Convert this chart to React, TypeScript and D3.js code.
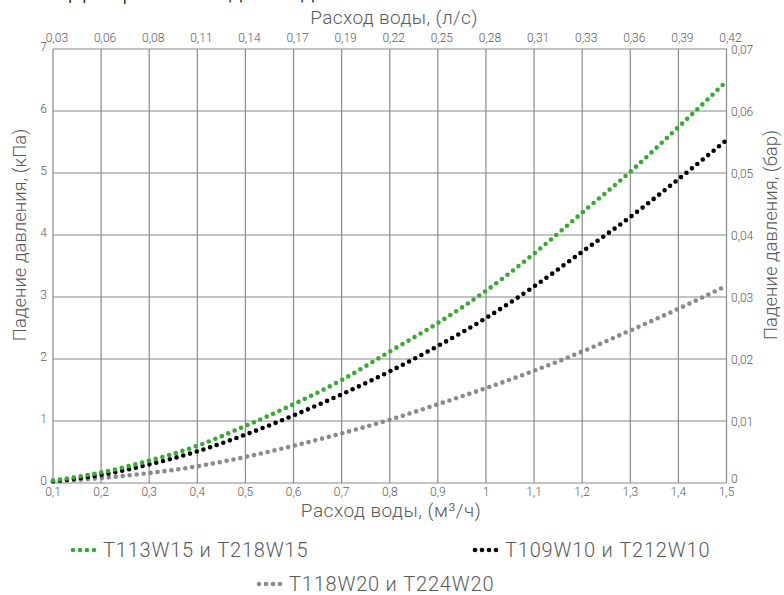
import React from "react";
import * as d3 from "d3";

const flow = [0.1, 0.2, 0.3, 0.4, 0.5, 0.6, 0.7, 0.8, 0.9, 1.0, 1.1, 1.2, 1.3, 1.4, 1.5];
const seriesGreen = [0.04, 0.17, 0.36, 0.6, 0.92, 1.27, 1.66, 2.12, 2.58, 3.1, 3.7, 4.36, 5.02, 5.74, 6.48];
const seriesBlack = [0.03, 0.13, 0.3, 0.51, 0.78, 1.09, 1.43, 1.8, 2.21, 2.66, 3.17, 3.73, 4.29, 4.9, 5.53];
const seriesGray = [0.02, 0.08, 0.16, 0.27, 0.42, 0.6, 0.8, 1.02, 1.27, 1.53, 1.81, 2.12, 2.46, 2.81, 3.18];

const bottomLabels = ["0,1", "0,2", "0,3", "0,4", "0,5", "0,6", "0,7", "0,8", "0,9", "1", "1,1", "1,2", "1,3", "1,4", "1,5"];
const topLabels = ["0,03", "0,06", "0,08", "0,11", "0,14", "0,17", "0,19", "0,22", "0,25", "0,28", "0,31", "0,33", "0,36", "0,39", "0,42"];
const leftTicks = [0, 1, 2, 3, 4, 5, 6, 7];
const rightLabels = ["0", "0,01", "0,02", "0,03", "0,04", "0,05", "0,06", "0,07"];

const legendNames = ["T113W15 и T218W15", "T109W10 и T212W10", "T118W20 и T224W20"];
const colors = ["#3aa935", "#000000", "#8a8a8a"];

const FONT = "Roboto, 'Open Sans', sans-serif";
const TEXT = "#5a5a5a";

export default function App() {
  const W = 784, H = 595;
  const x = d3.scaleLinear().domain([0.1, 1.5]).range([53, 726.5]);
  const y = d3.scaleLinear().domain([0, 7]).range([483, 49]);
  const line = d3
    .line<number>()
    .x((_, i) => x(flow[i]))
    .y((d) => y(d))
    .curve(d3.curveMonotoneX);
  const series = [seriesGreen, seriesBlack, seriesGray];

  const legendPos = [
    { x: 73, y: 550 },
    { x: 475, y: 550 },
    { x: 259, y: 584 },
  ];

  return (
    <svg width={W} height={H} style={{ position: "absolute", left: 0, top: 0, background: "#fff" }} fontFamily={FONT}>
      <text x={392} y={-1} textAnchor="middle" fontSize={24} fill="#222" fontWeight={300}>
        Диаграмма падения давления в теплообменниках T1 и T2
      </text>
      {/* grid */}
      {flow.map((v, i) => (
        <line key={"vx" + i} x1={x(v)} x2={x(v)} y1={y(0)} y2={y(7)} stroke="#8a8a8a" strokeWidth={1.2} />
      ))}
      {leftTicks.map((v) => (
        <line key={"hy" + v} x1={x(0.1)} x2={x(1.5)} y1={y(v)} y2={y(v)} stroke="#8a8a8a" strokeWidth={1.2} />
      ))}
      {/* series */}
      {series.slice().reverse().map((s, k) => {
        const idx = 2 - k;
        return (
          <path
            key={"s" + idx}
            d={line(s) || ""}
            fill="none"
            stroke={colors[idx]}
            strokeWidth={4.6}
            strokeLinecap="round"
            strokeDasharray="0 7"
          />
        );
      })}
      {/* bottom labels */}
      {flow.map((v, i) => (
        <text key={"bl" + i} x={x(v)} y={496} textAnchor="middle" fontSize={12} fill={TEXT} fontWeight={300}>
          {bottomLabels[i]}
        </text>
      ))}
      {/* top labels */}
      {flow.map((v, i) => (
        <text key={"tl" + i} x={x(v) + 4} y={42} textAnchor="middle" fontSize={12} fill={TEXT} fontWeight={300}>
          {topLabels[i]}
        </text>
      ))}
      {/* left labels */}
      {leftTicks.map((v) => (
        <text key={"ll" + v} x={47} y={y(v) + 2} textAnchor="end" fontSize={12} fill={TEXT} fontWeight={300}>
          {v}
        </text>
      ))}
      {/* right labels */}
      {leftTicks.map((v, i) => (
        <text key={"rl" + v} x={731} y={y(v) + (i === 0 ? 0 : 5)} textAnchor="start" fontSize={12} fill={TEXT} fontWeight={300}>
          {rightLabels[i]}
        </text>
      ))}
      {/* axis titles */}
      <text x={394} y={24} textAnchor="middle" fontSize={19} fill={TEXT} fontWeight={300} letterSpacing={0.4}>
        Расход воды, (л/с)
      </text>
      <text x={391} y={517} textAnchor="middle" fontSize={19} fill={TEXT} fontWeight={300} letterSpacing={0.5}>
        Расход воды, (м³/ч)
      </text>
      <text
        transform="translate(26,235) rotate(-90)"
        textAnchor="middle"
        fontSize={18.5}
        fill={TEXT}
        fontWeight={300}
      >
        Падение давления, (кПа)
      </text>
      <text
        transform="translate(777,235) rotate(-90)"
        textAnchor="middle"
        fontSize={18.5}
        fill={TEXT}
        fontWeight={300}
      >
        Падение давления, (бар)
      </text>
      {/* legend */}
      {legendNames.map((name, i) => (
        <g key={"lg" + i} transform={`translate(${legendPos[i].x},${legendPos[i].y})`}>
          {[0, 1, 2, 3].map((j) => (
            <circle key={j} cx={j * 7} cy={0} r={2.3} fill={colors[i]} />
          ))}
          <text x={30} y={7} fontSize={20} fill={TEXT} fontWeight={300} letterSpacing={0.8}>
            {name}
          </text>
        </g>
      ))}
    </svg>
  );
}
